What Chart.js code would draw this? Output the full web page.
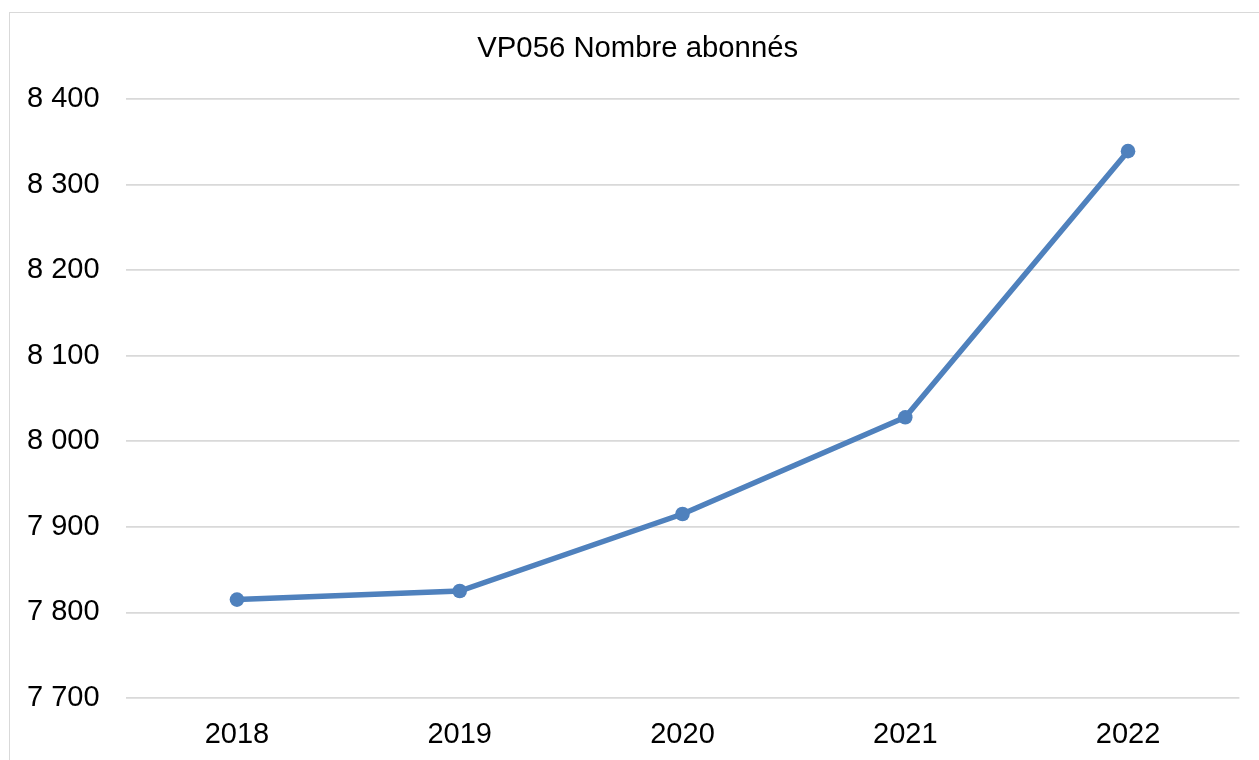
<!DOCTYPE html>
<html>
<head>
<meta charset="utf-8">
<script src="https://cdn.jsdelivr.net/npm/chart.js@4"></script>
<style>
  html, body { margin: 0; padding: 0; background: #fff; }
  #frame { position: absolute; left: 9px; top: 12px; width: 1300px; height: 800px; border: 1.5px solid #d9d9d9; box-sizing: border-box; }
  #wrap { position: absolute; left: 0; top: 0; width: 1259px; height: 760px; }
</style>
</head>
<body>
<div id="frame"></div>
<div id="wrap"><canvas id="c" width="1259" height="760"></canvas></div>
<script>
const title = 'VP056 Nombre abonnés';
const categories = ['2018', '2019', '2020', '2021', '2022'];
const subscribers = [7815, 7825, 7915, 8028, 8339];
const yMin = 7700, yMax = 8400, yStep = 100;

const fmt = v => {
  const s = Math.round(v).toString();
  return s.replace(/\B(?=(\d{3})+(?!\d))/g, ' ');
};

const shiftTitle = {
  id: 'shiftTitle',
  afterLayout(chart) {
    const tb = chart.titleBlock;
    if (tb) { tb.left += 18; tb.right += 18; }
  }
};

new Chart(document.getElementById('c'), {
  type: 'line',
  data: {
    labels: categories,
    datasets: [{
      data: subscribers,
      borderColor: '#4f81bd',
      backgroundColor: '#4f81bd',
      borderWidth: 5.5,
      pointRadius: 7.3,
      pointHoverRadius: 7.3,
      pointBackgroundColor: '#4f81bd',
      pointBorderWidth: 0,
      tension: 0
    }]
  },
  plugins: [shiftTitle],
  options: {
    responsive: false,
    animation: false,
    devicePixelRatio: 1,
    layout: { padding: { left: 0, right: 19.6, top: 0, bottom: 0 } },
    plugins: {
      legend: { display: false },
      tooltip: { enabled: false },
      title: {
        display: true,
        text: title,
        color: '#000',
        font: { family: 'Liberation Sans, Arial, sans-serif', size: 29.3, weight: 'normal', lineHeight: 1.2 },
        padding: { top: 31, bottom: 32.8 }
      }
    },
    scales: {
      x: {
        offset: true,
        grid: { display: false, drawTicks: false },
        border: { display: false },
        ticks: {
          color: '#000',
          padding: 20,
          font: { family: 'Liberation Sans, Arial, sans-serif', size: 29 }
        },
        afterFit: s => { s.height = 62; }
      },
      y: {
        min: yMin,
        max: yMax,
        grid: { color: '#d9d9d9', lineWidth: 1.8, drawTicks: false },
        border: { display: false },
        ticks: {
          stepSize: yStep,
          color: '#000',
          padding: 26,
          font: { family: 'Liberation Sans, Arial, sans-serif', size: 29 },
          callback: v => fmt(v)
        },
        afterFit: s => { s.width = 125.6; }
      }
    }
  }
});
</script>
</body>
</html>
